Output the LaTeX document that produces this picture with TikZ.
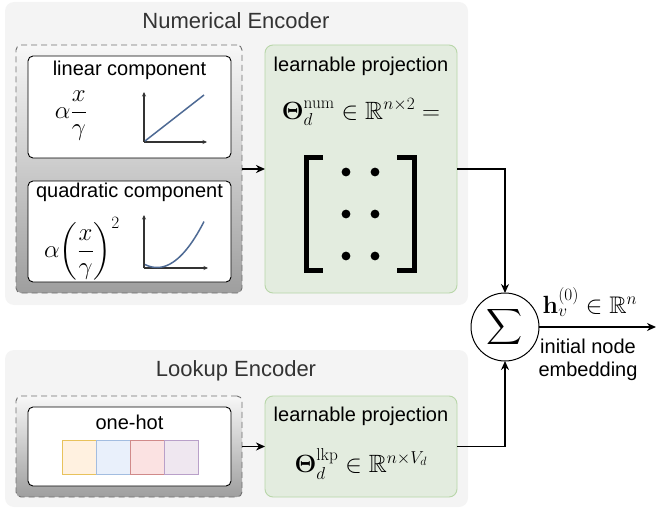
\documentclass[tikz,border=0pt]{standalone}
\usepackage{amsmath,amssymb}
\usepackage[no-math]{fontspec}
\setmainfont{Liberation Sans}
\usetikzlibrary{arrows.meta}
\definecolor{encbg}{HTML}{F4F4F4}
\definecolor{projfill}{HTML}{E3ECDF}
\definecolor{projdraw}{HTML}{B8D6A9}
\definecolor{titlegray}{HTML}{333333}
\definecolor{dashgray}{HTML}{707070}
\definecolor{plotblue}{HTML}{4E6A94}
\definecolor{axgray}{HTML}{333333}
\definecolor{c1f}{HTML}{FFF1E0}\definecolor{c1d}{HTML}{E8C25C}
\definecolor{c2f}{HTML}{E9F0FB}\definecolor{c2d}{HTML}{A3BDE0}
\definecolor{c3f}{HTML}{FBE2E2}\definecolor{c3d}{HTML}{D08A8A}
\definecolor{c4f}{HTML}{EFE7F0}\definecolor{c4d}{HTML}{B9A0C9}
\begin{document}
\begin{tikzpicture}[x=1pt,y=-1pt,
  every node/.style={inner sep=0pt, outer sep=0pt},
  bodyfont/.style={font=\fontsize{20}{24}\selectfont},
  mathfont/.style={font=\fontsize{25}{30}\selectfont},
  encbox/.style={fill=encbg, rounded corners=9pt},
  enctitle/.style={font=\fontsize{22}{26}\selectfont, text=titlegray},
  dashbox/.style={draw=dashgray, dash pattern=on 6pt off 4pt, line width=0.9pt, rounded corners=5pt, top color=black!3, bottom color=black!38},
  compbox/.style={draw=black, fill=white, line width=0.9pt, rounded corners=5pt},
  projbox/.style={draw=projdraw, fill=projfill, line width=0.9pt, rounded corners=8pt},
  cell/.style={draw=#1d, fill=#1f, line width=0.9pt, minimum width=34pt, minimum height=34pt},
  conn/.style={line width=1.7pt, -{Stealth[length=9pt,width=8pt]}},
  axis/.style={draw=axgray, line width=1.1pt, -{Stealth[length=4.5pt,width=4pt]}},
  curve/.style={draw=plotblue, line width=1.5pt},
  bracket/.style={line width=5pt, miter limit=10}
]
\useasboundingbox (0,0) rectangle (656,508);

% ---------- Numerical encoder ----------
\node[encbox, minimum width=463pt, minimum height=303pt] (numenc) at (236.5,153.5) {};
\node[enctitle] (numtitle) at (236,21) {Numerical Encoder};
\node[dashbox, minimum width=226pt, minimum height=248pt] (numdash) at (129,169) {};
\node[compbox, minimum width=203pt, minimum height=102pt] (linbox) at (129.5,107) {};
\node[compbox, minimum width=203pt, minimum height=101pt] (quadbox) at (129.5,231.5) {};
\node[bodyfont] (lintitle) at (129.5,70) {linear component};
\node[bodyfont] (quadtitle) at (129.5,192) {quadratic component};
\node[mathfont] (linform) at (71,116) {$\alpha\dfrac{x}{\gamma}$};
\node[font=\fontsize{24}{28}\selectfont] (quadform) at (82,249) {$\alpha\biggl(\dfrac{x}{\gamma}\biggr)^{2}$};

% linear plot
\coordinate (lo) at (144,142);
\draw[axis] (lo) -- (144,92);
\draw[axis] (lo) -- (207,142);
\draw[curve] (145,141) -- (204,95);
% quadratic plot
\coordinate (qo) at (144,268);
\draw[axis] (qo) -- (144,215);
\draw[axis] (qo) -- (208,268);
\draw[curve, domain=145:204, samples=40, smooth] plot (\x, {267.5-0.0208*(\x-157)*(\x-157)});

\node[projbox, minimum width=192pt, minimum height=248pt] (numproj) at (361,169) {};
\node[bodyfont] (numprojtitle) at (361,66) {learnable projection};
\node[mathfont] (numform) at (361,112) {$\boldsymbol{\Theta}_d^{\mathrm{num}}\in\mathbb{R}^{n\times 2}=$};

% matrix
\draw[bracket] (323,158) -- (306,158) -- (306,270) -- (323,270);
\draw[bracket] (397,158) -- (414,158) -- (414,270) -- (397,270);
\foreach \yy in {172,214,256}{
  \fill (346,\yy) circle (4.4pt);
  \fill (375,\yy) circle (4.4pt);
}

% ---------- Lookup encoder ----------
\node[encbox, minimum width=463pt, minimum height=157pt] (lkpenc) at (236.5,428.5) {};
\node[enctitle] (lkptitle) at (236,371) {Lookup Encoder};
\node[dashbox, minimum width=226pt, minimum height=101pt] (lkpdash) at (129,446.5) {};
\node[compbox, minimum width=203pt, minimum height=79pt] (onehot) at (129.5,446.5) {};
\node[bodyfont] (onehottitle) at (129.5,422) {one-hot};
\node[cell=c1] (cellA) at (79,457) {};
\node[cell=c2] (cellB) at (113,457) {};
\node[cell=c3] (cellC) at (147,457) {};
\node[cell=c4] (cellD) at (181,457) {};

\node[projbox, minimum width=192pt, minimum height=101pt] (lkpproj) at (361,446.5) {};
\node[bodyfont] (lkpprojtitle) at (361,416) {learnable projection};
\node[mathfont] (lkpform) at (361,464) {$\boldsymbol{\Theta}_d^{\mathrm{lkp}}\in\mathbb{R}^{n\times V_d}$};

% ---------- Sum ----------
\node[circle, draw=black, fill=white, line width=1pt, minimum size=68pt] (sum) at (505,327) {};
\node[mathfont] (sumsym) at (505,327) {$\displaystyle\sum$};
\coordinate (out) at (656,327);
\node[font=\fontsize{24}{28}\selectfont] (hlabel) at (590,302) {$\mathbf{h}_v^{(0)}\in\mathbb{R}^n$};
\node[bodyfont, align=center] (emblabel) at (588,360) {initial node\\[-1pt]embedding};

% connectors
\draw[conn] (numdash.east) -- (numproj.west);
\draw[conn] (lkpdash.east) -- (lkpproj.west);
\draw[conn] (numproj.east) -| (sum.north);
\draw[conn] (lkpproj.east) -| (sum.south);
\draw[conn] (sum.east) -- (out);
\end{tikzpicture}
\end{document}
